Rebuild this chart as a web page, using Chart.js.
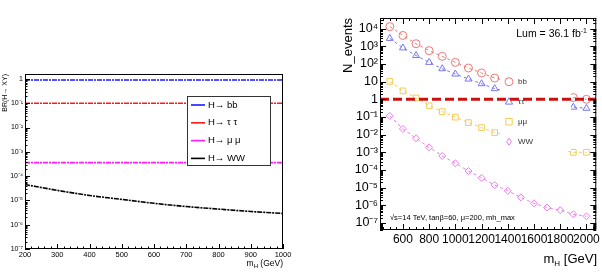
<!DOCTYPE html>
<html>
<head>
<meta charset="utf-8">
<script src="https://cdn.jsdelivr.net/npm/chart.js@4.4.1/dist/chart.umd.min.js"></script>
<style>
  body { margin: 0; background: #fff; width: 602px; height: 272px; overflow: hidden; position: relative; }
  canvas { position: absolute; top: 0; }
  #br { left: 0; }
  #nev { left: 300px; }
</style>
</head>
<body>
<canvas id="br" width="300" height="272"></canvas>
<canvas id="nev" width="302" height="272"></canvas>
<script>
// ---- left panel: branching ratios vs mH ----
const brMass = [200, 300, 400, 500, 600, 700, 800, 900, 1000];
const brBB = [0.9, 0.9, 0.9, 0.9, 0.9, 0.9, 0.9, 0.9, 0.9];
const brTauTau = [0.1, 0.1, 0.1, 0.1, 0.1, 0.1, 0.1, 0.1, 0.1];
const brMuMu = [3.6e-4, 3.6e-4, 3.6e-4, 3.6e-4, 3.6e-4, 3.6e-4, 3.6e-4, 3.6e-4, 3.6e-4];
const brWW = [4.5e-5, 2.6e-5, 1.6e-5, 1.1e-5, 7.6e-6, 5.6e-6, 4.4e-6, 3.5e-6, 2.9e-6];
const brLabels = ['H\u2192 bb', 'H\u2192 \u03c4 \u03c4', 'H\u2192 \u03bc \u03bc', 'H\u2192 WW'];
const brXTicks = [200, 300, 400, 500, 600, 700, 800, 900, 1000];
const brYTicks = [1e-7, 1e-6, 1e-5, 1e-4, 1e-3, 1e-2, 1e-1, 1];

// ---- right panel: number of events vs mH ----
const evMass = [500, 600, 700, 800, 900, 1000, 1100, 1200, 1300, 1400, 1500, 1600, 1700, 1800, 1900, 2000];
const evBB = [1.3e4, 4.1e3, 1.4e3, 570, 270, 123, 59, 31, 16, null, null, null, null, null, 1.25, 1.0];
const evTauTau = [2.8e3, 810, 300, 123, 54, 27, 14, 7.6, 4.0, null, null, null, null, null, 0.36, 0.31];
const evMuMu = [10.3, 3.0, 1.2, 0.43, 0.2, 0.098, 0.048, 0.025, 0.013, null, null, null, null, null, 1.0e-3, 1.0e-3];
const evWW = [0.115, 0.021, 6.3e-3, 1.9e-3, 6.2e-4, 2.4e-4, 8.7e-5, 3.6e-5, 1.4e-5, 6.6e-6, 2.8e-6, 1.3e-6, 7.5e-7, 5.3e-7, 3.1e-7, 2.4e-7];
const evLabels = ['bb', '\u03c4\u03c4', '\u03bc\u03bc', 'WW'];
const evRange = [425, 2075];
const threshold = 1;
const evXTicks = [600, 800, 1000, 1200, 1400, 1600, 1800, 2000];
const evYTicks = [1e-7, 1e-6, 1e-5, 1e-4, 1e-3, 1e-2, 1e-1, 1, 10, 100, 1e3, 1e4];

const FONT = "'Liberation Sans', Arial, Helvetica, sans-serif";
Chart.defaults.font.family = FONT;
Chart.defaults.color = '#000';

const SUP = { '-': '\u207b', '0': '\u2070', '1': '\u00b9', '2': '\u00b2', '3': '\u00b3', '4': '\u2074', '5': '\u2075', '6': '\u2076', '7': '\u2077', '8': '\u2078', '9': '\u2079' };
function powLabel(v) {
  const e = Math.round(Math.log10(v));
  if (e === 0) return '1';
  if (e === 1) return '10';
  return '10' + String(e).split('').map(c => SUP[c]).join('');
}
const pts = (xs, ys) => xs.map((x, i) => ({ x: x, y: ys[i] }));
const noGrid = { display: false, drawTicks: false };

// frame box with ROOT-like inner ticks
function frameTicks(o) {
  return {
    id: 'frameTicks',
    afterDraw(chart) {
      const { ctx, chartArea: a, scales: { x, y } } = chart;
      ctx.save();
      ctx.strokeStyle = '#000';
      ctx.lineWidth = 1;
      ctx.strokeRect(a.left + 0.5, a.top + 0.5, a.right - a.left - 1, a.bottom - a.top - 1);
      ctx.beginPath();
      for (let v = o.xStart; v <= x.max + 1e-6; v += o.xMinor) {
        const px = Math.round(x.getPixelForValue(v)) + 0.5;
        const len = (v % o.xMajor === 0) ? o.major : o.minor;
        ctx.moveTo(px, a.bottom); ctx.lineTo(px, a.bottom - len);
        if (o.mirror) { ctx.moveTo(px, a.top); ctx.lineTo(px, a.top + len); }
      }
      for (let e = Math.floor(Math.log10(y.min)); e <= Math.ceil(Math.log10(y.max)); e++) {
        for (let k = 1; k < 10; k++) {
          const v = k * Math.pow(10, e);
          if (v < y.min || v > y.max) continue;
          const py = Math.round(y.getPixelForValue(v)) + 0.5;
          const len = k === 1 ? o.major : o.minor;
          ctx.moveTo(a.left, py); ctx.lineTo(a.left + len, py);
          if (o.mirror) { ctx.moveTo(a.right, py); ctx.lineTo(a.right - len, py); }
        }
      }
      ctx.stroke();
      ctx.restore();
    }
  };
}

function marker(ctx, style, x, y, r) {
  ctx.beginPath();
  if (style === 'circle') ctx.arc(x, y, r, 0, Math.PI * 2);
  else if (style === 'triangle') { ctx.moveTo(x, y - r); ctx.lineTo(x + r * 0.9, y + r * 0.6); ctx.lineTo(x - r * 0.9, y + r * 0.6); ctx.closePath(); }
  else if (style === 'rect') ctx.rect(x - r * 0.8, y - r * 0.8, r * 1.6, r * 1.6);
  else { ctx.moveTo(x, y - r); ctx.lineTo(x + r * 0.7, y); ctx.lineTo(x, y + r); ctx.lineTo(x - r * 0.7, y); ctx.closePath(); }
  ctx.stroke();
}

// ----- left chart -----
const brColors = ['#1a1aff', '#ff1a1a', '#ff1aff', '#000000'];
const brSeries = [brBB, brTauTau, brMuMu, brWW];

new Chart(document.getElementById('br'), {
  type: 'line',
  data: {
    datasets: brSeries.map((s, i) => ({
      label: brLabels[i],
      data: pts(brMass, s),
      borderColor: brColors[i],
      borderWidth: 1.6,
      borderDash: [5, 1, 2, 1],
      pointRadius: 0,
      cubicInterpolationMode: 'monotone'
    }))
  },
  options: {
    responsive: false,
    animation: false,
    layout: { padding: { top: 74, right: 17, left: 0, bottom: 0 } },
    plugins: { legend: { display: false }, tooltip: { enabled: false } },
    scales: {
      x: {
        type: 'linear', min: 200, max: 1000,
        grid: noGrid, border: { display: false },
        afterBuildTicks: s => { s.ticks = brXTicks.map(v => ({ value: v })); },
        afterFit: s => { s.height = 23; },
        ticks: { font: { size: 7.5 }, padding: 1, maxRotation: 0, autoSkip: false, callback: v => String(v) }
      },
      y: {
        type: 'logarithmic', min: 1e-7, max: 1.6,
        grid: noGrid, border: { display: false },
        afterBuildTicks: s => { s.ticks = brYTicks.map(v => ({ value: v })); },
        afterFit: s => { s.width = 25; },
        ticks: { font: { size: 7 }, padding: 2, callback: v => powLabel(v) }
      }
    }
  },
  plugins: [frameTicks({ xStart: 200, xMinor: 20, xMajor: 100, major: 5, minor: 2.5, mirror: false }), {
    id: 'brDeco',
    afterDraw(chart) {
      const ctx = chart.ctx;
      ctx.save();
      // legend box
      ctx.fillStyle = '#fff';
      ctx.strokeStyle = '#333';
      ctx.lineWidth = 1;
      ctx.fillRect(187, 96, 84, 70);
      ctx.strokeRect(187.5, 96.5, 83, 69);
      ctx.font = '9.5px ' + FONT;
      ctx.textBaseline = 'middle';
      chart.data.datasets.forEach((d, i) => {
        const yy = 105 + i * 17.8;
        ctx.strokeStyle = d.borderColor;
        ctx.lineWidth = 1.6;
        ctx.beginPath(); ctx.moveTo(191, yy); ctx.lineTo(205, yy); ctx.stroke();
        ctx.fillStyle = '#000';
        ctx.fillText(d.label, 208, yy);
      });
      // axis titles
      ctx.fillStyle = '#000';
      ctx.font = '8.5px ' + FONT;
      ctx.textBaseline = 'alphabetic';
      ctx.textAlign = 'right';
      const t = ' (GeV)';
      ctx.fillText(t, 283, 266);
      const w1 = ctx.measureText(t).width;
      ctx.font = '6px ' + FONT;
      ctx.fillText('H', 283 - w1, 268);
      const w2 = ctx.measureText('H').width;
      ctx.font = '8.5px ' + FONT;
      ctx.fillText('m', 283 - w1 - w2, 266);
      ctx.translate(5, 74);
      ctx.rotate(-Math.PI / 2);
      ctx.font = '7px ' + FONT;
      ctx.textBaseline = 'middle';
      ctx.fillText('BR(H\u2192 XY)', 0, 0);
      ctx.restore();
    }
  }]
});

// ----- right chart -----
const evColors = ['#f07878', '#7878f0', '#f5cc55', '#ee7aee'];
const evStyles = ['circle', 'triangle', 'rect', 'rectRot'];
const evSeries = [evBB, evTauTau, evMuMu, evWW];

const evDatasets = evSeries.map((s, i) => ({
  label: evLabels[i],
  data: pts(evMass, s),
  borderColor: evColors[i],
  backgroundColor: 'rgba(0,0,0,0)',
  borderWidth: 1,
  borderDash: [3, 3],
  pointStyle: evStyles[i],
  pointRadius: i === 3 ? 3.5 : 4,
  pointBorderWidth: 1,
  spanGaps: true
}));
evDatasets.push({
  label: 'threshold',
  data: pts(evRange, [threshold, threshold]),
  borderColor: '#cc1010',
  borderWidth: 3,
  borderDash: [9, 4],
  pointRadius: 0,
  order: -1
});

new Chart(document.getElementById('nev'), {
  type: 'line',
  data: { datasets: evDatasets },
  options: {
    responsive: false,
    animation: false,
    layout: { padding: { top: 18, right: 5, left: 0, bottom: 0 } },
    plugins: { legend: { display: false }, tooltip: { enabled: false } },
    scales: {
      x: {
        type: 'linear', min: evRange[0], max: evRange[1],
        grid: noGrid, border: { display: false },
        afterBuildTicks: s => { s.ticks = evXTicks.map(v => ({ value: v })); },
        afterFit: s => { s.height = 42; },
        ticks: { font: { size: 12 }, padding: 2, maxRotation: 0, autoSkip: false, callback: v => String(v) }
      },
      y: {
        type: 'logarithmic', min: 4e-8, max: 4e4,
        grid: noGrid, border: { display: false },
        afterBuildTicks: s => { s.ticks = evYTicks.map(v => ({ value: v })); },
        afterFit: s => { s.width = 80; },
        ticks: { font: { size: 12.5 }, padding: 2, callback: v => powLabel(v) }
      }
    }
  },
  plugins: [frameTicks({ xStart: 450, xMinor: 50, xMajor: 200, major: 6, minor: 3, mirror: true }), {
    id: 'evLegend',
    beforeDatasetDraw(chart, args) {
      if (chart.data.datasets[args.index].label !== 'threshold') return;
      const ctx = chart.ctx;
      ctx.save();
      ctx.fillStyle = '#fff';
      ctx.fillRect(200, 71, 71, 80);
      ctx.font = '8px ' + FONT;
      ctx.textBaseline = 'middle';
      for (let i = 0; i < 4; i++) {
        const yy = 81.7 + i * 20;
        ctx.strokeStyle = evColors[i];
        ctx.lineWidth = 1;
        marker(ctx, evStyles[i], 209, yy, i === 3 ? 3.5 : 4);
        ctx.fillStyle = '#333';
        ctx.fillText(evLabels[i], 218, yy);
      }
      ctx.restore();
    },
    afterDraw(chart) {
      const ctx = chart.ctx;
      ctx.save();
      ctx.fillStyle = '#000';
      // luminosity
      ctx.textAlign = 'right';
      ctx.textBaseline = 'alphabetic';
      ctx.font = '7px ' + FONT;
      ctx.fillText('-1', 287, 33);
      const ws = ctx.measureText('-1').width;
      ctx.font = '10.5px ' + FONT;
      ctx.fillText('Lum = 36.1 fb', 287 - ws, 37);
      // conditions
      ctx.textAlign = 'left';
      ctx.font = '7.5px ' + FONT;
      ctx.fillText('\u221as=14 TeV, tan\u03b2=60, \u03bc=200, mh_max', 90, 220);
      // x title
      ctx.textAlign = 'right';
      ctx.font = '13px ' + FONT;
      const t = ' [GeV]';
      ctx.fillText(t, 297, 263);
      const w1 = ctx.measureText(t).width;
      ctx.font = '8px ' + FONT;
      ctx.fillText('H', 297 - w1, 266);
      const w2 = ctx.measureText('H').width;
      ctx.font = '13px ' + FONT;
      ctx.fillText('m', 297 - w1 - w2, 263);
      // y title
      ctx.translate(48, 18);
      ctx.rotate(-Math.PI / 2);
      ctx.textBaseline = 'middle';
      ctx.fillText('N_events', 0, 0);
      ctx.restore();
    }
  }]
});
</script>
</body>
</html>
